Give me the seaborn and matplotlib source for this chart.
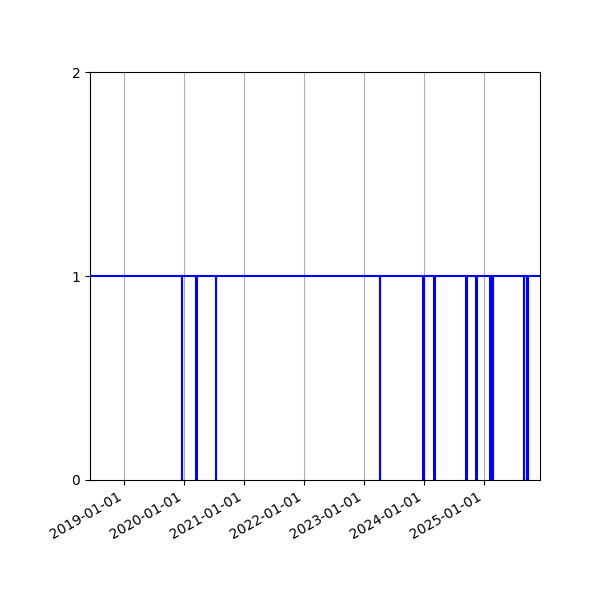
import pandas as pd
import matplotlib
matplotlib.use("Agg")
import matplotlib.pyplot as plt
import matplotlib.dates as mdates
import seaborn as sns

# dates where the state changes, and the state from that date on
change_dates = [
    "2018-06-08",
    "2019-12-17", "2019-12-19",
    "2020-03-17", "2020-03-19",
    "2020-07-12", "2020-07-14",
    "2023-04-09", "2023-04-11",
    "2023-12-28", "2023-12-30",
    "2024-03-04", "2024-03-06",
    "2024-09-15", "2024-09-17",
    "2024-11-14", "2024-11-16",
    "2025-02-07", "2025-02-09",
    "2025-02-15", "2025-02-17",
    "2025-02-23", "2025-02-25",
    "2025-08-30", "2025-09-01",
    "2025-09-20", "2025-09-22",
    "2025-12-07",
]
states = [1,
          0, 1,
          0, 1,
          0, 1,
          0, 1,
          0, 1,
          0, 1,
          0, 1,
          0, 1,
          0, 1,
          0, 1,
          0, 1,
          0, 1,
          0, 1,
          1]

df = pd.DataFrame({"date": pd.to_datetime(change_dates), "state": states})

fig, ax = plt.subplots(figsize=(6, 6), dpi=100)
fig.subplots_adjust(left=0.15, right=0.9, top=0.88, bottom=0.2)

sns.lineplot(data=df, x="date", y="state", drawstyle="steps-post",
             color="blue", linewidth=1.5, ax=ax)

ax.set_xlim(df["date"].min(), df["date"].max())
ax.set_ylim(0, 2)
ax.set_yticks([0, 1, 2])
ax.xaxis.set_major_locator(mdates.YearLocator())
ax.xaxis.set_major_formatter(mdates.DateFormatter("%Y-%m-%d"))
ax.grid(axis="x")
ax.set_xlabel("")
ax.set_ylabel("")
plt.setp(ax.get_xticklabels(), rotation=30, ha="right")

fig.savefig("out.png")
